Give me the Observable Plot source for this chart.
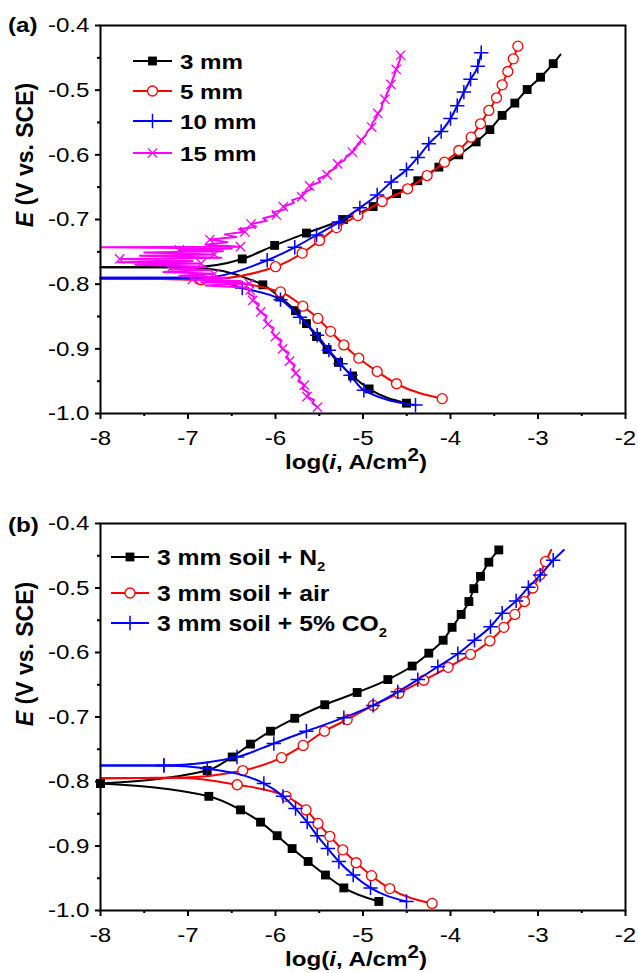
<!DOCTYPE html>
<html>
<head>
<meta charset="utf-8">
<script src="https://cdn.jsdelivr.net/npm/d3@7"></script>
<script src="https://cdn.jsdelivr.net/npm/@observablehq/plot@0.6"></script>
<style>
  body { margin: 0; background: #fff; }
  #fig { width: 638px; }
  #fig svg { display: block; }
</style>
</head>
<body>
<div id="fig"></div>
<script>
// ---- axes ----
const xTicks = [-8, -7, -6, -5, -4, -3, -2];
const xMinor = [-7.5, -6.5, -5.5, -4.5, -3.5, -2.5];
const yTicks = [-1.0, -0.9, -0.8, -0.7, -0.6, -0.5, -0.4];
const yMinor = [-0.95, -0.85, -0.75, -0.65, -0.55, -0.45];

// ---- (a) soil thickness: [log(i), E] ----
// Rest: flat run at the corrosion potential; Ano/Cat: symbol points of each branch; Tip: line end past the last symbol
const sizeLabels = ["3 mm", "5 mm", "10 mm", "15 mm"];

const mm3Rest = [[-8.0, -0.774], [-7.0, -0.774]];
const mm3Ano = [[-6.38, -0.761], [-6.01, -0.740], [-5.646, -0.721], [-5.222, -0.700], [-4.884, -0.680], [-4.617, -0.660], [-4.374, -0.640], [-4.133, -0.619], [-3.905, -0.600], [-3.707, -0.580], [-3.55, -0.561], [-3.41, -0.539], [-3.265, -0.520], [-3.124, -0.499], [-2.971, -0.480], [-2.826, -0.459]];
const mm3Tip = [[-2.743, -0.445]];
const mm3Cat = [[-6.145, -0.801], [-5.95, -0.820], [-5.771, -0.841], [-5.646, -0.861], [-5.531, -0.881], [-5.41, -0.901], [-5.28, -0.921], [-5.12, -0.942], [-4.93, -0.962], [-4.503, -0.984]];

const mm5Rest = [[-8.0, -0.792], [-7.3, -0.792]];
const mm5Ano = [[-6.85, -0.793], [-6.0, -0.773], [-5.695, -0.752], [-5.497, -0.7325], [-5.303, -0.7125], [-5.059, -0.694], [-4.781, -0.672], [-4.49, -0.6525], [-4.267, -0.632], [-4.069, -0.6114], [-3.905, -0.5933], [-3.764, -0.5727], [-3.657, -0.552], [-3.562, -0.5314], [-3.474, -0.5118], [-3.41, -0.4917], [-3.345, -0.4711], [-3.283, -0.4515], [-3.23, -0.432]];
const mm5Cat = [[-6.85, -0.793], [-5.943, -0.812], [-5.688, -0.834], [-5.516, -0.853], [-5.371, -0.873], [-5.219, -0.894], [-5.048, -0.9145], [-4.838, -0.935], [-4.617, -0.954], [-4.095, -0.977]];

const mm10Rest = [[-8.0, -0.790], [-6.85, -0.790]];
const mm10Ano = [[-6.095, -0.763], [-5.78, -0.743], [-5.531, -0.724], [-5.276, -0.704], [-5.036, -0.682], [-4.838, -0.662], [-4.678, -0.642], [-4.503, -0.623], [-4.374, -0.604], [-4.248, -0.583], [-4.107, -0.564], [-4.0, -0.544], [-3.923, -0.524], [-3.847, -0.503], [-3.771, -0.483], [-3.688, -0.463], [-3.649, -0.442]];
const mm10Cat = [[-6.38, -0.806], [-5.943, -0.824], [-5.72, -0.851], [-5.524, -0.879], [-5.39, -0.902], [-5.257, -0.923], [-5.143, -0.941], [-4.99, -0.964], [-4.4, -0.987]];

// 15 mm: raw noisy scan, cathodic end -> rest potential -> anodic end
const mm15 = [
  [-5.52, -0.990], [-5.58, -0.984], [-5.56, -0.979], [-5.64, -0.974], [-5.62, -0.968], [-5.69, -0.962], [-5.67, -0.956], [-5.74, -0.950],
  [-5.72, -0.944], [-5.77, -0.938], [-5.80, -0.931], [-5.78, -0.925], [-5.84, -0.919], [-5.87, -0.912], [-5.85, -0.906], [-5.92, -0.900],
  [-5.95, -0.893], [-5.93, -0.887], [-6.00, -0.881], [-6.04, -0.874], [-6.02, -0.868], [-6.09, -0.862], [-6.12, -0.855], [-6.10, -0.849],
  [-6.17, -0.843], [-6.21, -0.837], [-6.19, -0.831], [-6.26, -0.825], [-6.24, -0.820], [-6.31, -0.814], [-6.29, -0.809], [-6.36, -0.805],
  [-6.80, -0.802], [-6.30, -0.799], [-6.85, -0.797], [-6.40, -0.795], [-6.95, -0.793], [-6.55, -0.790], [-7.10, -0.787], [-6.70, -0.784],
  [-7.28, -0.781], [-6.75, -0.778], [-7.20, -0.776], [-6.80, -0.773], [-7.60, -0.770], [-6.85, -0.768], [-7.80, -0.766], [-6.95, -0.764],
  [-7.78, -0.761], [-6.62, -0.759], [-7.55, -0.756], [-6.70, -0.754], [-7.50, -0.751], [-6.60, -0.749], [-7.10, -0.747], [-6.50, -0.745],
  [-8.00, -0.743], [-6.40, -0.742],
  [-6.80, -0.739], [-6.55, -0.735], [-6.75, -0.731], [-6.45, -0.727], [-6.58, -0.723], [-6.35, -0.719], [-6.42, -0.715], [-6.22, -0.711],
  [-6.28, -0.707], [-6.10, -0.702], [-6.14, -0.698], [-5.99, -0.693], [-6.03, -0.689], [-5.88, -0.684], [-5.91, -0.680], [-5.79, -0.674],
  [-5.81, -0.670], [-5.70, -0.665], [-5.69, -0.659], [-5.59, -0.653], [-5.61, -0.648], [-5.49, -0.642], [-5.51, -0.637], [-5.41, -0.631],
  [-5.39, -0.626], [-5.31, -0.620], [-5.29, -0.614], [-5.21, -0.608], [-5.19, -0.602], [-5.12, -0.596], [-5.10, -0.590], [-5.04, -0.583],
  [-5.02, -0.577], [-4.97, -0.570], [-4.95, -0.564], [-4.90, -0.557], [-4.89, -0.550], [-4.85, -0.543], [-4.83, -0.536], [-4.79, -0.529],
  [-4.78, -0.521], [-4.75, -0.514], [-4.73, -0.506], [-4.70, -0.498], [-4.68, -0.491], [-4.66, -0.483], [-4.64, -0.476], [-4.62, -0.468],
  [-4.60, -0.461], [-4.58, -0.454], [-4.57, -0.446]
];

// ---- (b) 3 mm soil under different gases ----
const gasLabels = [["3 mm soil + N", "2"], ["3 mm soil + air", ""], ["3 mm soil + 5% CO", "2"]];

const n2Rest = [];
const n2Ano = [[-8.0, -0.803], [-6.781, -0.783], [-6.495, -0.762], [-6.286, -0.742], [-6.057, -0.722], [-5.78, -0.702], [-5.437, -0.681], [-5.067, -0.662], [-4.716, -0.642], [-4.438, -0.621], [-4.248, -0.601], [-4.084, -0.581], [-3.982, -0.561], [-3.878, -0.541], [-3.79, -0.521], [-3.733, -0.501], [-3.657, -0.482], [-3.562, -0.460], [-3.448, -0.441]];
const n2Cat = [[-8.0, -0.803], [-6.762, -0.823], [-6.4, -0.844], [-6.171, -0.863], [-5.981, -0.884], [-5.81, -0.904], [-5.627, -0.924], [-5.429, -0.945], [-5.219, -0.965], [-4.819, -0.986]];

const airRest = [[-8.0, -0.795], [-7.1, -0.794]];
const airAno = [[-6.374, -0.783], [-5.931, -0.763], [-5.684, -0.744], [-5.44, -0.722], [-5.181, -0.704], [-4.884, -0.682], [-4.59, -0.663], [-4.305, -0.643], [-4.027, -0.623], [-3.771, -0.603], [-3.55, -0.582], [-3.39, -0.561], [-3.265, -0.541], [-3.154, -0.521], [-3.059, -0.500], [-2.979, -0.480], [-2.914, -0.459]];
const airTip = [[-2.849, -0.441]];
const airCat = [[-6.438, -0.805], [-5.879, -0.823], [-5.65, -0.844], [-5.514, -0.865], [-5.379, -0.885], [-5.231, -0.906], [-5.078, -0.926], [-4.903, -0.946], [-4.694, -0.966], [-4.21, -0.989]];

const co2Rest = [[-8.0, -0.775]];
const co2Ano = [[-7.276, -0.775], [-6.44, -0.762], [-6.019, -0.741], [-5.647, -0.722], [-5.219, -0.701], [-4.884, -0.682], [-4.602, -0.661], [-4.374, -0.642], [-4.145, -0.622], [-3.916, -0.602], [-3.726, -0.581], [-3.543, -0.560], [-3.41, -0.539], [-3.25, -0.520], [-3.11, -0.499], [-2.975, -0.480], [-2.826, -0.457]];
const co2Tip = [[-2.705, -0.441]];
const co2Cat = [[-7.276, -0.775], [-6.78, -0.780], [-6.133, -0.803], [-5.914, -0.823], [-5.771, -0.842], [-5.638, -0.863], [-5.524, -0.884], [-5.402, -0.904], [-5.276, -0.924], [-5.112, -0.945], [-4.914, -0.965], [-4.503, -0.986]];

// ---- styles ----
const FONT = "'Liberation Sans', Arial, sans-serif";
const WIDE = 1.15; // horizontal stretch of the lettering
const sym = {
  square: {symbol: "square", r: 5, fill: "black", stroke: "none", sw: 0, d3: d3.symbolSquare},
  circle: {symbol: "circle", r: 5, fill: "white", stroke: "#ff0000", sw: 1.3, d3: d3.symbolCircle},
  plus: {symbol: "plus", r: 4.7, fill: "none", stroke: "#0000ff", sw: 1.5, d3: d3.symbolPlus},
  times: {symbol: "times", r: 4.3, fill: "none", stroke: "#ff00ff", sw: 1.3, d3: d3.symbolTimes}
};

const X = d => d[0], Y = d => d[1];

function smooth(color, s, rest, ano, cat, tip = []) {
  return [
    Plot.line([...rest, ...cat], {x: X, y: Y, stroke: color, strokeWidth: 2, curve: "monotone-x"}),
    Plot.line([...rest, ...ano, ...tip], {x: X, y: Y, stroke: color, strokeWidth: 2, curve: "monotone-x"}),
    Plot.dot([...ano, ...cat], {x: X, y: Y, symbol: s.symbol, r: s.r, fill: s.fill, stroke: s.stroke, strokeWidth: s.sw})
  ];
}

function noisy(color, s, trace) {
  return [
    Plot.line(trace, {x: X, y: Y, stroke: color, strokeWidth: 2, strokeLinejoin: "round"}),
    Plot.dot(trace.filter((d, i) => i % 3 === 0), {x: X, y: Y, symbol: s.symbol, r: s.r, fill: "none", stroke: s.stroke, strokeWidth: s.sw})
  ];
}

function widenAxisText(svg) {
  d3.select(svg).selectAll("text").each(function () {
    const x = +(this.getAttribute("x") || 0);
    this.removeAttribute("x");
    const t = this.getAttribute("transform") || "";
    this.setAttribute("transform", `${t} translate(${x},0) scale(${WIDE},1)`);
  });
}

function panel({height, marginTop, marginBottom, marks}) {
  const svg = Plot.plot({
    width: 638,
    height,
    marginLeft: 100,
    marginRight: 13,
    marginTop,
    marginBottom,
    x: {domain: [-8, -2]},
    y: {domain: [-1.0, -0.4]},
    style: {fontFamily: FONT, fontSize: "21px", color: "black", background: "white", overflow: "visible"},
    marks: [
      Plot.axisY(yTicks, {tickSize: 5, tickPadding: 6, strokeWidth: 2, tickFormat: d => d.toFixed(1), label: null}),
      Plot.axisY(yMinor, {tickSize: 3, strokeWidth: 2, text: null, label: null}),
      Plot.axisX(xTicks, {tickSize: 6, tickPadding: 11, strokeWidth: 2, tickFormat: d => String(d), label: null}),
      Plot.axisX(xMinor, {tickSize: 3, strokeWidth: 2, text: null, label: null}),
      ...marks,
      Plot.frame({stroke: "black", strokeWidth: 2})
    ]
  });
  widenAxisText(svg);
  return svg;
}

function addText(g, x, y, size, parts, opts = {}) {
  const t = g.append("text")
    .attr("transform", `translate(${x},${y}) scale(${WIDE},1)`)
    .attr("font-size", size)
    .attr("font-weight", "bold")
    .attr("font-family", FONT)
    .attr("text-anchor", opts.anchor || "start");
  parts.forEach(p => {
    const s = t.append("tspan").text(p.text);
    if (p.italic) s.attr("font-style", "italic");
    if (p.size) s.attr("font-size", p.size);
    if (p.dy) s.attr("dy", p.dy);
  });
  return t;
}

function decorate(svg, {tag, tagY, yTitleY, xTitleY, legend}) {
  const g = d3.select(svg).append("g");
  addText(g, 8, tagY, 21, [{text: tag}]);
  // y title (rotated)
  g.append("text")
    .attr("transform", `translate(33,${yTitleY}) rotate(-90)`)
    .attr("font-size", 23).attr("font-weight", "bold").attr("font-family", FONT)
    .attr("text-anchor", "middle")
    .call(t => {
      t.append("tspan").attr("font-style", "italic").text("E");
      t.append("tspan").text(" (V vs. SCE)");
    });
  // x title
  addText(g, 356, xTitleY, 21, [
    {text: "log("}, {text: "i", italic: true}, {text: ", A/cm"},
    {text: "2", size: 18, dy: -8}, {text: ")", dy: 8}
  ], {anchor: "middle"});
  // legend
  const {x1, x2, tx, rows, size, entries} = legend;
  entries.forEach((e, i) => {
    const y = rows[i];
    g.append("line").attr("x1", x1).attr("x2", x2).attr("y1", y).attr("y2", y)
      .attr("stroke", e.color).attr("stroke-width", 2);
    g.append("path")
      .attr("d", d3.symbol(e.s.d3, Math.PI * e.s.r * e.s.r)())
      .attr("transform", `translate(${(x1 + x2) / 2},${y})`)
      .attr("fill", e.s.fill).attr("stroke", e.s.stroke).attr("stroke-width", e.s.sw);
    const parts = [{text: e.label[0]}];
    if (e.label[1]) parts.push({text: e.label[1], size: size * 0.6, dy: size * 0.3});
    addText(g, tx, y + size * 0.36, size, parts);
  });
}

// ---- panel (a) ----
const svgA = panel({
  height: 490, marginTop: 25, marginBottom: 77,
  marks: [
    ...smooth("black", sym.square, mm3Rest, mm3Ano, mm3Cat, mm3Tip),
    ...smooth("#ff0000", sym.circle, mm5Rest, mm5Ano, mm5Cat),
    ...smooth("#0000ff", sym.plus, mm10Rest, mm10Ano, mm10Cat),
    ...noisy("#ff00ff", sym.times, mm15)
  ]
});
decorate(svgA, {
  tag: "(a)", tagY: 32, yTitleY: 155, xTitleY: 469,
  legend: {
    x1: 133, x2: 172, tx: 180, rows: [61, 91, 121, 153], size: 21,
    entries: [
      {color: "black", s: sym.square, label: [sizeLabels[0]]},
      {color: "#ff0000", s: sym.circle, label: [sizeLabels[1]]},
      {color: "#0000ff", s: sym.plus, label: [sizeLabels[2]]},
      {color: "#ff00ff", s: sym.times, label: [sizeLabels[3]]}
    ]
  }
});

// ---- panel (b) ----
const svgB = panel({
  height: 483, marginTop: 33, marginBottom: 63,
  marks: [
    ...smooth("black", sym.square, n2Rest, n2Ano, n2Cat),
    ...smooth("#ff0000", sym.circle, airRest, airAno, airCat, airTip),
    ...smooth("#0000ff", sym.plus, co2Rest, co2Ano, co2Cat, co2Tip)
  ]
});
decorate(svgB, {
  tag: "(b)", tagY: 42, yTitleY: 164, xTitleY: 476,
  legend: {
    x1: 111, x2: 149, tx: 157, rows: [67, 103, 133], size: 21.5,
    entries: [
      {color: "black", s: sym.square, label: gasLabels[0]},
      {color: "#ff0000", s: sym.circle, label: gasLabels[1]},
      {color: "#0000ff", s: sym.plus, label: gasLabels[2]}
    ]
  }
});

document.getElementById("fig").append(svgA, svgB);
</script>
</body>
</html>
